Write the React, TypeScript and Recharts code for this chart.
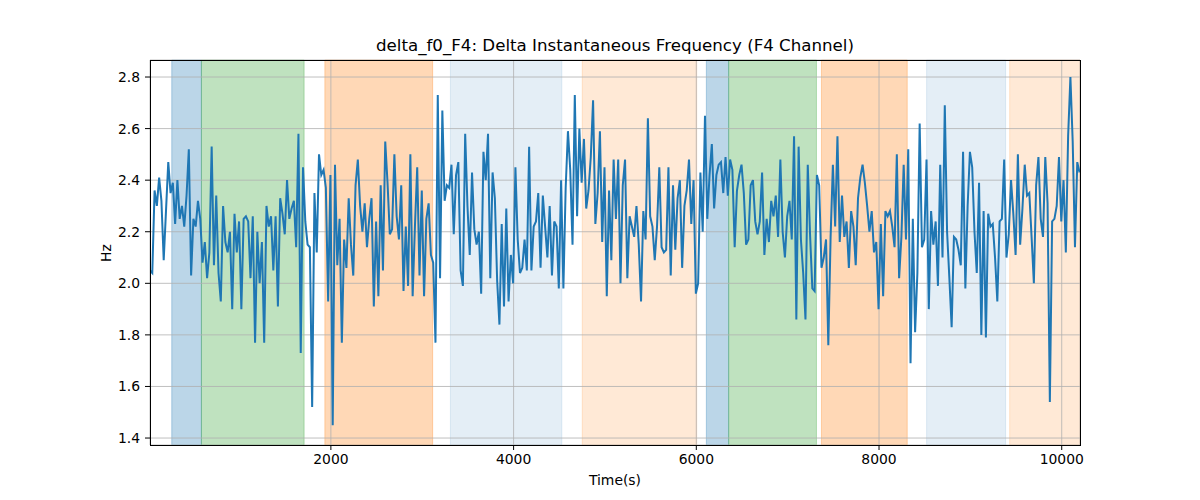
import { LineChart, Line, XAxis, YAxis, CartesianGrid, ReferenceArea } from 'recharts';

// sampling grid of the signal (seconds)
const START_TIME = 20;
const STEP = 25;

const hzValues = [
  2.05, 2.04, 2.36, 2.30, 2.41, 2.32, 2.09, 2.28, 2.47, 2.35,
  2.39, 2.23, 2.40, 2.25, 2.30, 2.22, 2.34, 2.52, 2.03, 2.25,
  2.22, 2.32, 2.25, 2.08, 2.16, 2.02, 2.12, 2.53, 2.07, 2.34,
  2.04, 1.93, 2.30, 2.16, 2.12, 2.20, 1.90, 2.27, 2.12, 2.24,
  1.90, 2.25, 2.26, 2.24, 2.02, 2.26, 1.77, 2.20, 2.00, 2.16,
  1.77, 2.30, 2.22,
  2.26, 2.05, 2.26, 1.91, 2.33, 2.27, 2.19, 2.40, 2.25, 2.29,
  2.32, 2.14, 2.58, 1.73, 2.45, 2.24, 2.15, 2.14, 1.52, 2.35,
  2.12, 2.50, 2.42, 2.44, 2.37, 1.93, 2.42, 1.45, 2.46, 2.07,
  2.25, 1.77, 2.17, 2.06, 2.33, 2.15, 2.03, 2.38, 2.48, 2.30,
  2.20, 2.31, 2.14, 2.25, 2.33, 1.91, 2.24, 1.95, 2.38, 2.05,
  2.55, 2.39, 2.19,
  2.21, 2.50, 2.26, 2.17, 2.38, 1.97, 2.22, 1.99, 2.50, 1.95,
  2.22, 2.45, 2.03, 2.36, 1.95, 2.25, 2.31, 2.11, 2.08, 1.77,
  2.73, 2.02, 2.67, 2.32, 2.38, 2.37, 2.46, 2.19, 2.42, 2.47,
  2.05, 1.99, 2.58, 2.30, 2.11, 2.43, 2.21, 2.15, 2.20, 1.96,
  2.51, 2.40, 2.58, 2.02, 2.43, 2.33, 2.01, 1.84, 2.23, 1.91,
  2.29, 1.93,
  2.11, 2.00, 2.45, 2.17, 2.04, 2.06, 2.17, 2.05, 2.53, 2.05,
  2.22, 2.24, 2.35, 2.06, 2.34, 2.22, 2.10, 2.30, 2.03, 2.24,
  2.22, 1.98, 2.40, 1.98, 2.37, 2.59, 2.44, 2.15, 2.73, 2.26,
  2.60, 2.39, 2.56, 2.29, 2.36, 2.49, 2.71, 2.23, 2.35, 2.59,
  2.16, 2.45, 1.95, 2.36, 2.09, 2.48, 2.25, 2.48, 2.00, 2.38,
  2.48, 2.02, 2.26,
  2.22, 2.18, 2.30, 2.15, 1.93, 2.28, 2.17, 2.64, 2.26, 2.22,
  2.09, 2.22, 2.45, 2.14, 2.12, 2.13, 2.45, 2.03, 2.38, 2.13,
  2.33, 2.40, 2.06, 2.30, 2.36, 2.48, 2.23, 2.40, 1.96, 2.00,
  2.43, 2.20, 2.65, 2.25, 2.42, 2.54, 2.29, 2.42, 2.46, 2.47,
  2.35, 2.49, 2.34, 2.48, 2.44, 2.14, 2.36, 2.42, 2.46, 2.35,
  2.15, 2.17, 2.38,
  2.40, 2.24, 2.19, 2.24, 2.43, 2.11, 2.25, 2.16, 2.32, 2.26,
  2.34, 2.18, 2.48, 2.20, 2.10, 2.26, 2.32, 2.17, 2.57, 1.86,
  2.53, 2.17, 2.04, 1.86, 2.46, 2.19, 1.98, 1.97, 2.42, 2.38,
  2.06, 2.10, 2.17, 1.76, 2.18, 2.46, 2.22, 2.57, 2.16, 2.34,
  2.18, 2.24, 2.06, 2.28, 2.22, 2.07, 2.33, 2.41, 2.46, 2.39,
  2.30, 2.20,
  2.28, 2.12, 2.16, 1.90, 2.23, 1.95, 2.28, 2.26, 2.28, 2.22,
  2.14, 2.50, 2.02, 2.18, 2.46, 2.17, 2.52, 1.69, 2.25, 1.81,
  2.04, 2.62, 2.14, 2.17, 2.48, 1.90, 2.28, 2.15, 2.24, 1.99,
  2.46, 2.10, 2.69, 2.20, 2.02, 1.83, 2.18, 2.17, 2.13, 2.07,
  2.51, 1.98, 2.30, 2.51, 2.45, 2.20, 2.04, 2.39, 1.80, 2.28,
  1.79, 2.27, 2.22,
  2.23, 2.10, 1.93, 2.24, 2.25, 2.48, 2.10, 2.19, 2.40, 2.27,
  2.11, 2.50, 2.15, 2.29, 2.46, 2.34, 2.35, 2.18, 2.00, 2.38,
  2.49, 2.25, 2.18, 2.49, 2.31, 1.54, 2.24, 2.25, 2.30, 2.49,
  2.24, 2.40, 2.12, 2.57, 2.80, 2.55, 2.14, 2.47, 2.43,
];

const xTicks = [2000, 4000, 6000, 8000, 10000];
const yTicks = [1.4, 1.6, 1.8, 2.0, 2.2, 2.4, 2.6, 2.8];

// shaded segments
const spanStarts = [258, 583, 1934, 3308, 4751, 6110, 6354, 7370, 8521, 9430];
const spanEnds = [583, 1707, 3114, 4528, 6005, 6354, 7315, 8309, 9386, 10200];
const spanKinds = ['blue', 'green', 'orange', 'paleBlue', 'paleOrange', 'blue', 'green', 'orange', 'paleBlue', 'paleOrange'];

const spanStyle: Record<string, { fill: string; opacity: number }> = {
  blue: { fill: '#1f77b4', opacity: 0.3 },
  green: { fill: '#2ca02c', opacity: 0.3 },
  orange: { fill: '#ff7f0e', opacity: 0.3 },
  paleBlue: { fill: '#1f77b4', opacity: 0.12 },
  paleOrange: { fill: '#ff7f0e', opacity: 0.17 },
};

const chartData = hzValues.map((hz, i) => ({ time: START_TIME + i * STEP, hz }));

const font = '"DejaVu Sans", sans-serif';

const App = () => {
  return (
    <div style={{ position: 'absolute', left: 0, top: 0, width: 1200, height: 500, background: '#fff', fontFamily: font }}>
      <LineChart
        width={1200}
        height={500}
        data={chartData}
        margin={{ top: 60, right: 120, bottom: 30, left: 90 }}
      >
        {spanStarts.map((x1, i) => (
          <ReferenceArea
            key={i}
            x1={x1}
            x2={spanEnds[i]}
            fill={spanStyle[spanKinds[i]].fill}
            fillOpacity={spanStyle[spanKinds[i]].opacity}
            stroke={spanStyle[spanKinds[i]].fill}
            strokeOpacity={spanStyle[spanKinds[i]].opacity}
            zIndex={-200}
          />
        ))}
        <CartesianGrid stroke="#b0b0b0" strokeWidth={0.8} />
        <XAxis
          dataKey="time"
          type="number"
          domain={[20, 10200]}
          ticks={xTicks}
          allowDataOverflow
          height={25}
          tickSize={5}
          tickMargin={4}
          axisLine={false}
          tickLine={{ stroke: '#000' }}
          tick={{ fill: '#000', fontSize: 13.9, fontFamily: font }}
        />
        <YAxis
          type="number"
          domain={[1.373, 2.866]}
          ticks={yTicks}
          allowDataOverflow
          width={60}
          tickSize={5}
          tickMargin={5}
          axisLine={false}
          tickLine={{ stroke: '#000' }}
          tickFormatter={(v: number) => v.toFixed(1)}
          tick={{ fill: '#000', fontSize: 13.9, fontFamily: font }}
        />
        <Line
          dataKey="hz"
          stroke="#1f77b4"
          strokeWidth={2}
          dot={false}
          isAnimationActive={false}
        />
      </LineChart>
      <div style={{ position: 'absolute', left: 150, top: 60, width: 929, height: 384, border: '1px solid #000', pointerEvents: 'none' }} />
      <div style={{ position: 'absolute', left: 150, top: 36, width: 930, textAlign: 'center', fontSize: 16.67, color: '#000' }}>
        delta_f0_F4: Delta Instantaneous Frequency (F4 Channel)
      </div>
      <div style={{ position: 'absolute', left: 150, top: 472, width: 930, textAlign: 'center', fontSize: 13.9, color: '#000' }}>
        Time(s)
      </div>
      <div style={{ position: 'absolute', left: 106, top: 253, transform: 'translate(-50%, -50%) rotate(-90deg)', fontSize: 13.9, color: '#000' }}>
        Hz
      </div>
    </div>
  );
};

export default App;
